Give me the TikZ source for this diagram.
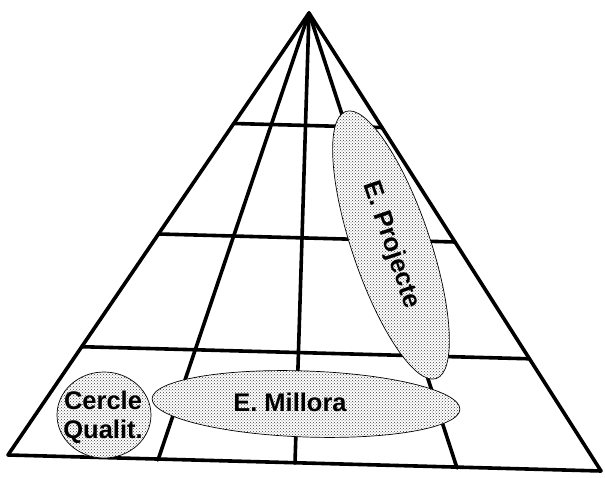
\documentclass[tikz,border=0pt]{standalone}
\usepackage{fontspec}
\setmainfont{Liberation Sans}
\usetikzlibrary{calc,shapes.geometric,patterns}
\begin{document}
\begin{tikzpicture}[x=1pt,y=-1pt,
    grid/.style={line width=3.6pt,line cap=round,line join=round},
    zone/.style={ellipse,draw,line width=0.7pt,inner sep=0pt,
      preaction={fill=white},pattern=crosshatch dots,pattern color=black!75},
    tag/.style={font=\bfseries\fontsize{25.5}{29}\selectfont,align=center}]
        \useasboundingbox (0,0) rectangle (605,478);
        \coordinate (apex) at (309,13);
        \coordinate (bl) at (8,455);
        \coordinate (bli) at (158,460);
        \coordinate (bm) at (295,463);
        \coordinate (bri) at (457,468);
        \coordinate (br) at (601,471);
        \foreach \b in {bl,bli,bm,bri,br}
            \draw[grid] (apex) -- (\b);
        \foreach \t in {0.25,0.5,0.755}
            \draw[grid] ($(apex)!\t!(bl)$) -- ($(apex)!\t!(br)$);
        \draw[grid] (bl) -- (br);
        \node[zone,minimum width=94pt,minimum height=86pt] (cercle) at (104,415) {};
        \node[tag] (cercletxt) at (103,417) {Cercle\\Qualit.};
        \node[zone,minimum width=308pt,minimum height=66pt,rotate=-2] (millora) at (306,404) {};
        \node[tag] (milloratxt) at (290,402) {E. Millora};
        \node[zone,tag,minimum width=282pt,minimum height=78pt,rotate=-71.3] (projecte) at (391,245) {E. Projecte};
\end{tikzpicture}
\end{document}
